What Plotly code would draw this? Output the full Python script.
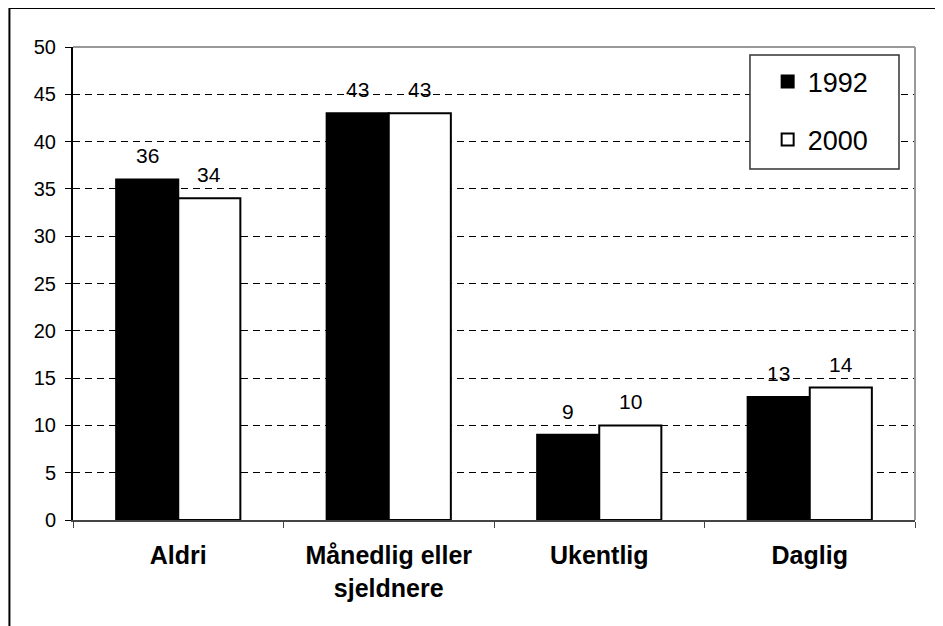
import plotly.graph_objects as go

categories = ["Aldri", "Månedlig eller<br>sjeldnere", "Ukentlig", "Daglig"]
series_names = ["1992", "2000"]
values_1992 = [36, 43, 9, 13]
values_2000 = [34, 43, 10, 14]
y_ticks = list(range(0, 55, 5))

FONT = "Arial, 'Liberation Sans', sans-serif"

fig = go.Figure()
fig.add_trace(go.Bar(
    x=categories, y=values_1992, name=series_names[0],
    marker=dict(color="black", line=dict(color="black", width=2)),
    legendgroup="a",
))
fig.add_trace(go.Bar(
    x=categories, y=values_2000, name=series_names[1],
    marker=dict(color="white", line=dict(color="black", width=2)),
    legendgroup="b",
))

annotations = []
for vals, shift in ((values_1992, -31), (values_2000, 31)):
    for c, v in zip(categories, vals):
        annotations.append(dict(
            x=c, y=v, xref="x", yref="y", text=str(v), showarrow=False,
            xshift=shift, yshift=10, yanchor="bottom",
            font=dict(family=FONT, size=21, color="black"),
        ))

shapes = [
    # outer chart frame (right/bottom edges fall outside the picture)
    dict(type="rect", xref="paper", yref="paper", x0=-0.0755, x1=1.3, y0=-0.6, y1=1.0825,
         line=dict(color="black", width=2), fillcolor="rgba(0,0,0,0)", layer="below"),
    # plot area top and right border
    dict(type="line", xref="paper", yref="paper", x0=0, x1=1, y0=1, y1=1,
         line=dict(color="#999999", width=2), layer="above"),
    dict(type="line", xref="paper", yref="paper", x0=1, x1=1, y0=0, y1=1,
         line=dict(color="#999999", width=2), layer="above"),
    # legend box
    dict(type="rect", xref="paper", yref="paper", x0=0.804, x1=0.981, y0=0.742, y1=0.983,
         line=dict(color="#333333", width=1.5), fillcolor="white", layer="above"),
]

fig.update_layout(
    width=935, height=618,
    margin=dict(l=65, r=28, t=39, b=106),
    paper_bgcolor="white", plot_bgcolor="white",
    barmode="group", bargap=0.41, bargroupgap=0,
    font=dict(family=FONT, color="black"),
    showlegend=True,
    legend=dict(
        x=0.825, y=0.978, xanchor="left", yanchor="top",
        bgcolor="rgba(0,0,0,0)", borderwidth=0,
        font=dict(family=FONT, size=27, color="black"),
        traceorder="grouped", tracegroupgap=20,
    ),
    xaxis=dict(
        type="category", tickson="boundaries", ticks="outside", ticklen=6,
        tickcolor="#444444", showline=True, linecolor="#444444", linewidth=2,
        showgrid=False, ticklabelstandoff=12,
        tickfont=dict(family=FONT, size=25, color="black", weight="bold"),
    ),
    yaxis=dict(
        range=[0, 50], tickvals=y_ticks, ticks="outside", ticklen=6,
        tickcolor="black", showline=True, linecolor="black", linewidth=2,
        showgrid=True, gridcolor="black", griddash="7px,5px", gridwidth=1,
        zeroline=False, ticklabelstandoff=5,
        tickfont=dict(family=FONT, size=20, color="black"),
    ),
    annotations=annotations,
    shapes=shapes,
)

fig.write_html("out.html")
